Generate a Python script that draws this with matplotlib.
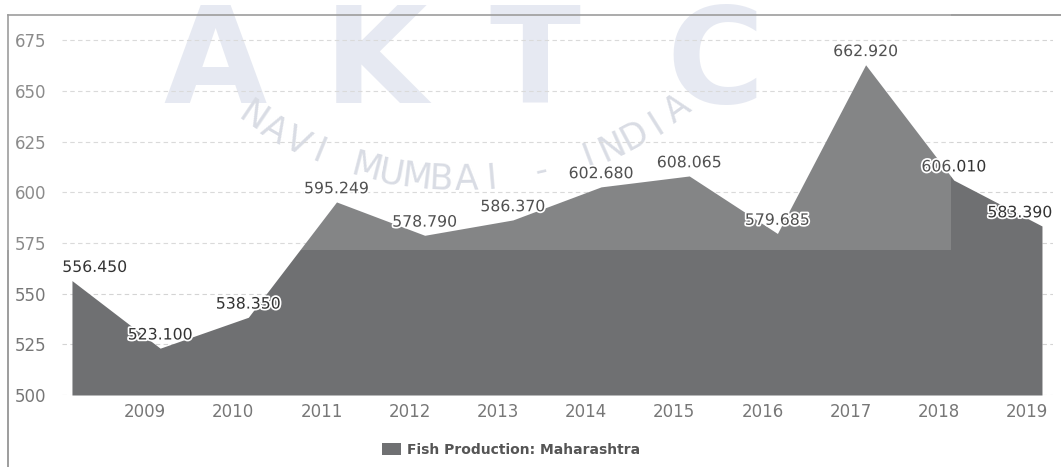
import numpy as np
import matplotlib
matplotlib.use("Agg")
import matplotlib.pyplot as plt
import matplotlib.patheffects as pe
from matplotlib.patches import Patch, Rectangle
from matplotlib.lines import Line2D

# data
years = [2008, 2009, 2010, 2011, 2012, 2013, 2014, 2015, 2016, 2017, 2018, 2019]
production = [556.450, 523.100, 538.350, 595.249, 578.790, 586.370,
              602.680, 608.065, 579.685, 662.920, 606.010, 583.390]
value_labels = ["556.450", "523.100", "538.350", "595.249", "578.790", "586.370",
                "602.680", "608.065", "579.685", "662.920", "606.010", "583.390"]
tick_years = [2009, 2010, 2011, 2012, 2013, 2014, 2015, 2016, 2017, 2018, 2019]
y_ticks = [500, 525, 550, 575, 600, 625, 650, 675]
series_name = "Fish Production: Maharashtra"
watermark_big = "AKTC"
watermark_arc = "NAVI MUMBAI - INDIA"

W, H = 1061, 467
FILL = "#6f7072"


def fx(px):
    return px / W


def fy(py):
    return 1 - py / H


fig = plt.figure(figsize=(W / 100, H / 100), dpi=100)
ax = fig.add_axes([fx(62), fy(395), fx(1053) - fx(62), fy(18) - fy(395)])
ax.patch.set_visible(False)

# points sit a little after the year tick (date axis)
x = np.array(years) + 0.17
ax.fill_between(x, production, 500, color=FILL, lw=0, zorder=2)

ax.set_xlim(2008.057, 2019.295)
ax.set_ylim(500, 686)
ax.set_xticks(tick_years)
ax.set_yticks(y_ticks)
ax.grid(axis="y", color="#d4d4d4", ls=(0, (4, 3)), lw=0.8, zorder=1)
ax.grid(axis="x", visible=False)
for s in ax.spines.values():
    s.set_visible(False)
ax.tick_params(axis="both", length=0, labelsize=12, colors="#777777")
ax.tick_params(axis="y", pad=11)
ax.tick_params(axis="x", pad=6)

# data labels
outline = [pe.withStroke(linewidth=2.5, foreground="white")]
n = len(production)
for i, (xi, yi, lab) in enumerate(zip(x, production, value_labels)):
    if i == 0:
        ha, dx = "left", -7
    elif i == n - 1:
        ha, dx = "right", 7.5
    else:
        ha, dx = "center", 0
    ax.annotate(lab, (xi, yi), xytext=(dx, 9.5), textcoords="offset points",
                ha=ha, va="center", fontsize=11.3, color="#333333",
                path_effects=outline, zorder=4)

# legend
fig.legend(handles=[Patch(facecolor=FILL, edgecolor="none", label=series_name)],
           loc="center", bbox_to_anchor=(fx(511), fy(450)), frameon=False,
           prop=dict(size=10, weight="bold"), labelcolor="#555555",
           handlelength=1.4, handleheight=1.0, handletextpad=0.4)

# outer frame of the screenshot
fig.add_artist(Line2D([fx(8), fx(8)], [fy(15), 0], transform=fig.transFigure,
                      color="#8c8c8c", lw=1.2))
fig.add_artist(Line2D([fx(8), 1], [fy(15), fy(15)], transform=fig.transFigure,
                      color="#8c8c8c", lw=1.2))

# faint watermark behind the chart, letters spread out wide
for ch, px in zip(watermark_big, [215, 375, 535, 715]):
    fig.text(fx(px), fy(1), ch, fontsize=96, weight="bold",
             color="#e2e6f0", ha="center", va="top", zorder=-1)
cx, cy, r = 460, -190, 370
thetas = np.linspace(-34, 36, len(watermark_arc))
for ch, th in zip(watermark_arc, thetas):
    px = cx + r * np.sin(np.radians(th))
    py = cy + r * np.cos(np.radians(th))
    fig.text(fx(px), fy(py), ch, rotation=th, rotation_mode="anchor",
             ha="center", va="center", fontsize=25, weight="normal",
             color="#d3d7e0", zorder=-1)

# light band left by the watermark over the upper part
fig.add_artist(Rectangle((0, fy(250)), fx(951), 1 - fy(250), transform=fig.transFigure,
                         facecolor="white", alpha=0.15, lw=0, zorder=5))

fig.savefig("out.png", dpi=100)
